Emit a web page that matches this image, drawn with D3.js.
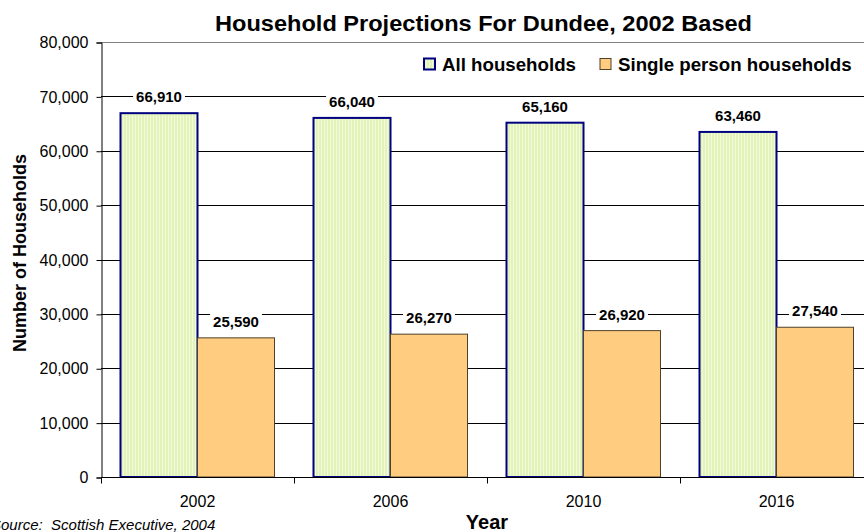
<!DOCTYPE html>
<html>
<head>
<meta charset="utf-8">
<script src="https://cdn.jsdelivr.net/npm/d3@7"></script>
<style>
  html, body { margin: 0; padding: 0; background: #fff; }
  svg { display: block; font-family: "Liberation Sans", Arial, sans-serif; }
</style>
</head>
<body>
<svg id="chart" width="864" height="532"></svg>
<script>
// Household projections for Dundee (2002 based)
const years = ["2002", "2006", "2010", "2016"];
const allHouseholds = [66910, 66040, 65160, 63460];
const singlePerson = [25590, 26270, 26920, 27540];
const seriesNames = ["All households", "Single person households"];
const yTicks = [0, 10000, 20000, 30000, 40000, 50000, 60000, 70000, 80000];

const svg = d3.select("#chart");
const margin = { left: 101, top: 42, bottom: 477 };
const bandW = 193;
const gap = 19.5;

const x = d3.scaleBand().domain(years)
  .range([margin.left, margin.left + bandW * years.length]).padding(0);
const inner = d3.scaleBand().domain(seriesNames)
  .range([gap, bandW - gap]).padding(0);
const y = d3.scaleLinear().domain([0, 80000]).range([margin.bottom, margin.top]);

// Vertical stripe fill for the "All households" bars
const defs = svg.append("defs");
const pat = defs.append("pattern").attr("id", "stripes")
  .attr("patternUnits", "userSpaceOnUse").attr("width", 3).attr("height", 4);
pat.append("rect").attr("width", 3).attr("height", 4).attr("fill", "#e2f3b8");
pat.append("rect").attr("width", 1).attr("height", 4).attr("fill", "#f2f9dc");

// Gridlines
svg.append("g").selectAll("line").data(yTicks.slice(1)).join("line")
  .attr("x1", margin.left).attr("x2", 864)
  .attr("y1", d => Math.round(y(d)) + 0.5).attr("y2", d => Math.round(y(d)) + 0.5)
  .attr("stroke", d => d === 80000 ? "#808080" : "#000").attr("stroke-width", 1);

// Y axis
const yAxis = d3.axisLeft(y).tickValues(yTicks).tickSize(5).tickPadding(8)
  .tickFormat(d3.format(","));
const gy = svg.append("g").attr("transform", `translate(${margin.left + 0.5},0.5)`).call(yAxis);
gy.select(".domain").attr("stroke", "#000");
gy.selectAll(".tick line").attr("stroke", "#000");
gy.selectAll("text").attr("font-size", 16).attr("fill", "#000")
  .attr("font-family", "Liberation Sans, Arial, sans-serif");

const series = [
  { name: seriesNames[0], values: allHouseholds, fill: "url(#stripes)", stroke: "#000080", sw: 2 },
  { name: seriesNames[1], values: singlePerson, fill: "#ffcc80", stroke: "#4d4128", sw: 1 }
];

const fmt = d3.format(",");
series.forEach(s => {
  const g = svg.append("g");
  g.selectAll("rect").data(years).join("rect")
    .attr("x", (d) => x(d) + inner(s.name))
    .attr("y", (d, i) => y(s.values[i]))
    .attr("width", inner.bandwidth())
    .attr("height", (d, i) => y(0) - y(s.values[i]))
    .attr("fill", s.fill).attr("stroke", s.stroke).attr("stroke-width", s.sw);
});

// X axis baseline and ticks
const gx = svg.append("g").attr("transform", `translate(0,${margin.bottom + 0.5})`);
gx.append("line").attr("x1", margin.left).attr("x2", 864).attr("stroke", "#000");
const boundaries = d3.range(years.length + 1).map(i => margin.left + i * bandW);
gx.selectAll("line.tk").data(boundaries).join("line").attr("class", "tk")
  .attr("x1", d => d + 0.5).attr("x2", d => d + 0.5).attr("y1", 0).attr("y2", 6)
  .attr("stroke", "#000");
gx.selectAll("text").data(years).join("text")
  .attr("x", d => x(d) + x.bandwidth() / 2).attr("y", 29)
  .attr("text-anchor", "middle").attr("font-size", 16).text(d => d);

// Value labels with white backing boxes
series.forEach(s => {
  const g = svg.append("g");
  years.forEach((yr, i) => {
    const cx = x(yr) + inner(s.name) + inner.bandwidth() / 2;
    const ty = y(s.values[i]) - 11;
    const t = g.append("text").attr("x", cx).attr("y", ty)
      .attr("text-anchor", "middle").attr("font-size", 15).attr("font-weight", "bold")
      .text(fmt(s.values[i]));
    const bb = t.node().getBBox();
    g.insert("rect", "text").attr("x", bb.x - 3).attr("y", bb.y)
      .attr("width", bb.width + 6).attr("height", bb.height).attr("fill", "#fff");
  });
});

// Title
svg.append("text").attr("x", 215).attr("y", 31)
  .attr("font-size", 22).attr("font-weight", "bold")
  .attr("textLength", 537).attr("lengthAdjust", "spacingAndGlyphs")
  .text("Household Projections For Dundee, 2002 Based");

// Legend
const legend = svg.append("g").attr("transform", "translate(423,58)");
const legItems = [
  { x: 0, fill: "url(#stripes)", stroke: "#000080", sw: 2, label: seriesNames[0] },
  { x: 176, fill: "#ffcc80", stroke: "#4d4128", sw: 1, label: seriesNames[1] }
];
legItems.forEach(it => {
  legend.append("rect").attr("x", it.x + 1).attr("y", 0.5).attr("width", 11).attr("height", 11)
    .attr("fill", it.fill).attr("stroke", it.stroke).attr("stroke-width", it.sw);
  legend.append("text").attr("x", it.x + 19).attr("y", 12.5).attr("font-size", 18.7)
    .attr("font-weight", "bold").text(it.label);
});

// Axis titles
svg.append("text").attr("transform", "translate(26,253) rotate(-90)")
  .attr("text-anchor", "middle").attr("font-size", 18).attr("font-weight", "bold")
  .text("Number of Households");
svg.append("text").attr("x", 487).attr("y", 529).attr("text-anchor", "middle")
  .attr("font-size", 20).attr("font-weight", "bold").text("Year");

// Source note
svg.append("text").attr("x", -9).attr("y", 530).attr("font-size", 15)
  .attr("font-style", "italic").attr("xml:space", "preserve").text("Source:  Scottish Executive, 2004");
</script>
</body>
</html>
